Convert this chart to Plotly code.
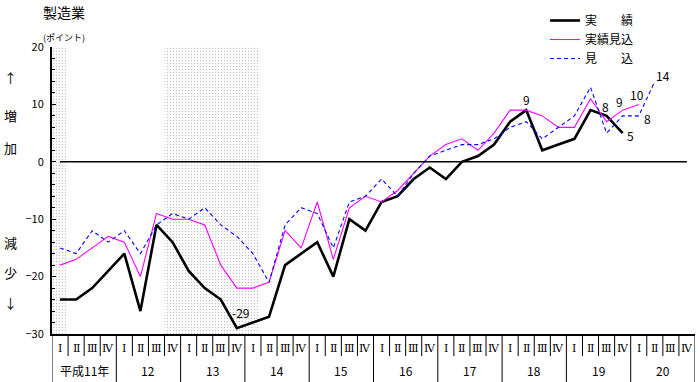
import plotly.graph_objects as go

# ---------------- data ----------------
years = ["平成11年", "12", "13", "14", "15", "16", "17", "18", "19", "20"]
quarters = ["Ⅰ", "Ⅱ", "Ⅲ", "Ⅳ"]

actual = [-24, -24, -22, -19, -16, -26, -11, -14, -19, -22, -24, -29, -28, -27, -18, -16,
          -14, -20, -10, -12, -7, -6, -3, -1, -3, 0, 1, 3, 7, 9, 2, 3, 4, 9, 8, 5,
          None, None, None, None]
estimate = [-18, -17, -15, -13, -14, -20, -9, -10, -10, -11, -18, -22, -22, -21, -12, -15,
            -7, -17, -8, -6, -7, -5, -2, 1, 3, 4, 2, 5, 9, 9, 8, 6, 6, 11, 7, 9, 10,
            None, None, None]
forecast = [-15, -16, -12, -14, -12, -16, -11, -9, -10, -8, -11, -13, -16, -21, -11, -8,
            -9, -15, -7, -6, -3, -6, -2, 1, 2, 3, 3, 4, 6, 7, 4, 6, 8, 13, 5, 8, 8, 14,
            None, None]

# shaded (recession) periods, in quarter-index units
shade_periods = [(-0.5, 0.37), (6.5, 12.45)]

series_names = ["実　　績", "実績見込", "見　　込"]

# value labels: (series index, quarter index, xshift, yshift)
value_labels = [(0, 11, 4, 16), (0, 29, 0, 11), (0, 34, -1, 9), (0, 35, 8, -2),
                (1, 35, -3, 9), (1, 36, -2, 10), (2, 36, 9, -3), (2, 37, 8, 6)]

# ---------------- layout geometry ----------------
W, H = 700, 382
L, R, T, B = 52, 5, 47, 48
PW, PH = W - L - R, H - T - B


def py(pix):
    return (H - B - pix) / PH


n = len(years) * len(quarters)
xs = list(range(n))
quarter_labels = [q for _ in years for q in quarters]
all_series = [actual, estimate, forecast]

fig = go.Figure()

# shading
for s, e in shade_periods:
    fig.add_trace(go.Scatter(
        x=[s, e, e, s, s], y=[-30, -30, 20, 20, -30], fill="toself", mode="lines",
        line=dict(width=0, color="rgba(0,0,0,0)"),
        fillcolor="rgba(0,0,0,0)",
        fillpattern=dict(shape=".", fgcolor="#8a8a8a", bgcolor="white", size=3, solidity=0.2),
        showlegend=False, hoverinfo="skip"))

styles = [dict(color="black", width=2.6),
          dict(color="#FF00FF", width=1.1),
          dict(color="#0000FF", width=1.1, dash="4px,3px")]
for name, ys, st in zip(series_names, all_series, styles):
    fig.add_trace(go.Scatter(x=xs, y=ys, mode="lines", name=name, line=st,
                             connectgaps=False))

shapes = []
# zero line
shapes.append(dict(type="line", xref="x", yref="y", x0=xs[0], x1=xs[-1], y0=0, y1=0,
                   line=dict(color="black", width=1.5)))
# bottom table lines
for i in range(n + 1):
    xq = i - 0.5
    full = (i % len(quarters) == 0)
    shapes.append(dict(type="line", xref="x", yref="paper", x0=xq, x1=xq,
                       y0=0, y1=py(H) if full else py(356),
                       line=dict(color="black", width=1)))

annotations = []
for i, q in enumerate(quarter_labels):
    annotations.append(dict(x=i, y=py(348), xref="x", yref="paper", text=q, showarrow=False,
                            font=dict(family="DejaVu Serif", size=11, color="black"),
                            xanchor="center", yanchor="middle"))
for k, yl in enumerate(years):
    annotations.append(dict(x=k * len(quarters) + 1.5, y=py(370), xref="x", yref="paper",
                            text=yl, showarrow=False,
                            font=dict(family="Noto Sans CJK JP", size=12, color="black"),
                            xanchor="center", yanchor="middle"))

for si, qi, dx, dy in value_labels:
    v = all_series[si][qi]
    annotations.append(dict(x=qi, y=v, xref="x", yref="y", text=str(v), showarrow=False,
                            xshift=dx, yshift=dy,
                            font=dict(family="Noto Sans CJK JP", size=12, color="black")))

# side labels
for txt, pix in [("↑", 77), ("増", 115), ("加", 147), ("減", 243), ("少", 272), ("↓", 302)]:
    annotations.append(dict(x=0, y=py(pix), xref="paper", yref="paper", text=txt,
                            showarrow=False, xshift=10 - L, xanchor="center", yanchor="middle",
                            font=dict(family="Noto Sans CJK JP", size=13, color="black")))

# title and unit
annotations.append(dict(x=0, y=py(12), xref="paper", yref="paper", text="製造業",
                        showarrow=False, xshift=41 - L, xanchor="left", yanchor="middle",
                        font=dict(family="Noto Sans CJK JP", size=14, color="black")))
annotations.append(dict(x=0, y=py(37), xref="paper", yref="paper", text="(ポイント)",
                        showarrow=False, xshift=41 - L, xanchor="left", yanchor="middle",
                        font=dict(family="Noto Sans CJK JP", size=9, color="black")))

fig.update_layout(
    width=W, height=H,
    margin=dict(l=L, r=R, t=T, b=B, pad=0),
    paper_bgcolor="white", plot_bgcolor="white",
    font=dict(family="Noto Sans CJK JP", size=11, color="black"),
    showlegend=True,
    legend=dict(x=(545 - L) / PW, y=py(6), xanchor="left", yanchor="top",
                bgcolor="rgba(0,0,0,0)", font=dict(size=12, family="Noto Sans CJK JP"),
                tracegroupgap=0),
    shapes=shapes,
    annotations=annotations,
    xaxis=dict(range=[-0.5, n - 0.5], showticklabels=False, ticks="", showgrid=False,
               zeroline=False, showline=True, linecolor="black", linewidth=2, fixedrange=True),
    yaxis=dict(range=[-30, 20], tick0=0, dtick=10, ticks="inside", ticklen=4, tickwidth=1,
               tickcolor="black", showgrid=False, zeroline=False, showline=True,
               linecolor="black", linewidth=2, ticklabelstandoff=4, fixedrange=True,
               tickfont=dict(size=11, family="Noto Sans CJK JP"),
               minor=dict(dtick=2, ticks="inside", ticklen=3, tickcolor="black", showgrid=False)),
)

fig.write_html("out.html", config={"displayModeBar": False},
               post_script="document.body.style.margin='0';document.body.style.overflow='hidden';")
